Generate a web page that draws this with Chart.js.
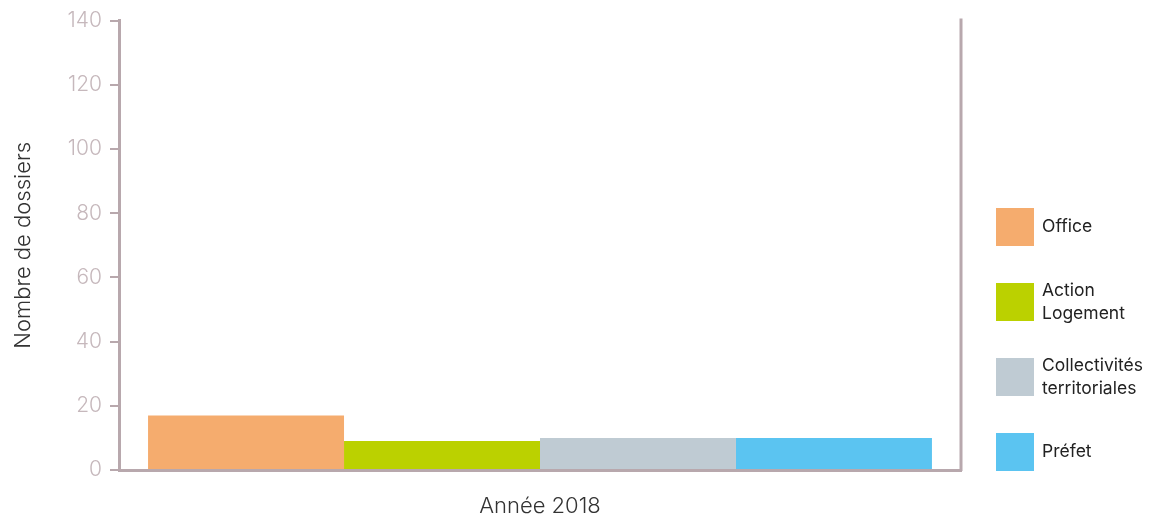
<!DOCTYPE html>
<html>
<head>
<meta charset="utf-8">
<script src="https://cdn.jsdelivr.net/npm/chart.js@4.4.0/dist/chart.umd.min.js"></script>
<style>
  html, body { margin: 0; padding: 0; background: #fff; }
  #wrap { width: 1150px; height: 520px; }
</style>
</head>
<body>
<div id="wrap"><canvas id="chart"></canvas></div>
<script>
// Data
const categories = ['Année 2018'];
const seriesNames = [['Office'], ['Action', 'Logement'], ['Collectivités', 'territoriales'], ['Préfet']];
const seriesValues = [[17], [9], [10], [10]];
const seriesColors = ['#F5AC6E', '#BBD100', '#BFCBD3', '#5BC4F1'];
const yTicks = { min: 0, max: 140, step: 20 };

const FONT = 'Inter, "Noto Sans", sans-serif';
const AXIS_COLOR = '#b8a8ad';
const TICK_TEXT = '#c6b8bc';

// right border + legend drawn from the chart's datasets
const sideLegend = {
  id: 'sideLegend',
  afterDraw(chart) {
    const { ctx, chartArea } = chart;
    ctx.save();
    ctx.strokeStyle = AXIS_COLOR;
    ctx.lineWidth = 3;
    ctx.beginPath();
    ctx.moveTo(chartArea.right, chartArea.top - 2);
    ctx.lineTo(chartArea.right, chartArea.bottom + 1);
    ctx.stroke();

    const box = 38;
    const gap = 75;
    const x0 = chartArea.right + 35;
    const n = chart.data.datasets.length;
    ctx.font = '17.5px ' + FONT;
    ctx.textBaseline = 'middle';
    chart.data.datasets.forEach((ds, i) => {
      const cy = chartArea.bottom - 18 - (n - 1 - i) * gap;
      ctx.fillStyle = ds.backgroundColor;
      ctx.fillRect(x0, cy - box / 2, box, box);
      ctx.fillStyle = '#222';
      const lines = ds.labelLines;
      const lh = 23;
      lines.forEach((line, j) => {
        ctx.fillText(line, x0 + box + 8, cy + (j - (lines.length - 1) / 2) * lh);
      });
    });
    ctx.restore();
  }
};

const datasets = seriesNames.map((name, i) => ({
  label: name.join(' '),
  labelLines: name,
  data: seriesValues[i],
  backgroundColor: seriesColors[i],
  borderWidth: 0,
  barPercentage: 1,
  categoryPercentage: 0.931
}));

new Chart(document.getElementById('chart'), {
  type: 'bar',
  data: { labels: categories, datasets },
  options: {
    responsive: true,
    maintainAspectRatio: false,
    animation: false,
    layout: { padding: { top: 13, right: 189, left: 0, bottom: 0 } },
    plugins: {
      legend: { display: false },
      tooltip: { enabled: false }
    },
    scales: {
      x: {
        grid: { display: false },
        border: { display: true, color: AXIS_COLOR, width: 3 },
        ticks: { display: false },
        title: {
          display: true,
          text: categories[0],
          color: '#333',
          font: { family: FONT, size: 22, weight: 300 },
          padding: { top: 22, bottom: 0 }
        },
        afterFit(scale) { scale.height = 50; }
      },
      y: {
        min: yTicks.min,
        max: yTicks.max,
        ticks: {
          stepSize: yTicks.step,
          color: TICK_TEXT,
          font: { family: FONT, size: 21, weight: 300 },
          padding: 8
        },
        grid: {
          drawOnChartArea: false,
          drawTicks: true,
          tickLength: 9,
          color: AXIS_COLOR,
          lineWidth: 2
        },
        border: { display: true, color: AXIS_COLOR, width: 3 },
        title: {
          display: true,
          text: 'Nombre de dossiers',
          color: '#333',
          font: { family: FONT, size: 22, weight: 300 },
          padding: { top: 10, bottom: 20 }
        },
        afterFit(scale) { scale.width = 119; }
      }
    }
  },
  plugins: [sideLegend]
});
</script>
</body>
</html>
